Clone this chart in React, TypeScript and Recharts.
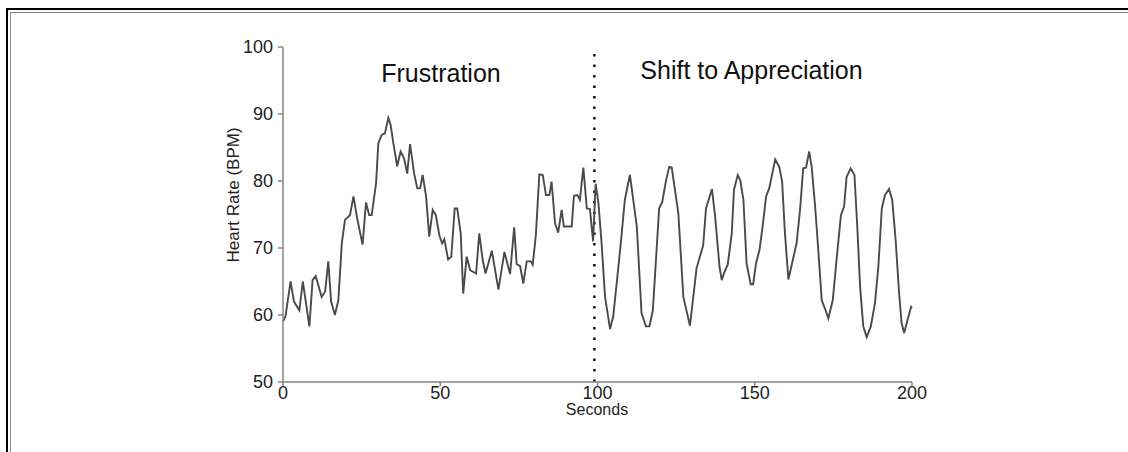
import React from 'react';
import { LineChart, Line, XAxis, YAxis, ReferenceLine } from 'recharts';

const SECONDS = [0, 0.8, 2.4, 3.5, 5.2, 6.3, 8.4, 9.4, 10.4, 12.3, 13.4, 14.4, 15.3, 16.5, 17.6, 18.7, 19.7, 21.3, 22.4, 23.6, 25.3, 26.4, 27.4, 28.2, 29.6, 30.3, 31.4, 32.4, 33.5, 34.2, 35.1, 36.3, 37.4, 38.5, 39.5, 40.4, 41.7, 42.7, 43.6, 44.4, 45.5, 46.5, 47.6, 48.6, 49.7, 50.6, 51.3, 52.5, 53.5, 54.6, 55.4, 56.5, 57.3, 58.4, 59.5, 61.4, 62.4, 63.5, 64.4, 66.4, 68.5, 70.4, 72.2, 73.5, 74.3, 75.4, 76.4, 77.5, 78.8, 79.4, 80.4, 81.5, 82.6, 83.6, 84.7, 85.4, 86.5, 87.5, 88.6, 89.3, 91.8, 92.5, 93.6, 94.4, 95.5, 96.6, 97.6, 98.6, 99.4, 100.3, 101.3, 102.4, 104.0, 105.0, 107.2, 108.7, 110.3, 112.5, 114.0, 115.4, 116.5, 117.6, 119.6, 120.6, 121.8, 122.8, 123.6, 125.7, 127.3, 129.4, 131.5, 133.6, 134.5, 136.4, 137.4, 138.8, 139.5, 140.2, 141.4, 142.7, 143.4, 144.6, 145.4, 146.4, 147.4, 148.7, 149.5, 150.4, 151.5, 152.5, 153.6, 154.6, 155.7, 156.5, 157.8, 158.7, 159.6, 160.7, 162.1, 163.3, 164.4, 165.4, 166.3, 167.3, 168.1, 169.2, 170.2, 171.3, 172.3, 173.4, 174.8, 176.0, 177.4, 178.4, 179.2, 180.5, 181.7, 182.6, 183.5, 184.5, 185.6, 186.9, 188.2, 189.3, 190.4, 191.4, 192.7, 193.7, 194.8, 195.9, 196.7, 197.5, 198.6, 199.7, 200];

const BPM = [59.0, 59.8, 65.0, 62.0, 60.7, 65.0, 58.3, 65.2, 65.8, 62.7, 63.5, 68.0, 62.0, 60.0, 62.2, 70.7, 74.2, 74.9, 77.7, 74.4, 70.5, 76.8, 74.9, 74.9, 79.7, 85.6, 86.9, 87.1, 89.4, 88.4, 85.6, 82.2, 84.4, 83.4, 81.1, 85.5, 81.1, 78.9, 78.9, 80.9, 77.7, 71.7, 75.7, 74.9, 71.9, 70.7, 71.3, 68.3, 68.7, 75.9, 75.9, 72.2, 63.2, 68.7, 66.7, 66.2, 72.2, 68.2, 66.2, 69.6, 63.8, 69.4, 66.1, 73.1, 67.6, 67.3, 64.7, 68.0, 68.0, 67.5, 71.9, 81.0, 80.9, 77.9, 77.9, 79.9, 73.7, 72.3, 75.7, 73.2, 73.2, 77.8, 77.9, 77.2, 82.0, 75.9, 75.8, 71.0, 79.6, 76.7, 70.7, 62.7, 57.9, 59.8, 69.7, 77.2, 80.9, 73.2, 60.3, 58.3, 58.3, 60.7, 75.9, 76.9, 80.1, 82.1, 82.0, 75.2, 62.7, 58.4, 67.0, 70.4, 75.9, 78.8, 74.7, 67.2, 65.2, 66.2, 67.5, 72.2, 78.7, 80.9, 80.1, 77.2, 67.7, 64.6, 64.6, 67.7, 69.7, 73.2, 77.7, 78.9, 81.4, 83.2, 82.1, 79.9, 72.2, 65.3, 68.2, 70.7, 75.7, 81.9, 82.0, 84.4, 82.1, 76.2, 69.7, 62.2, 61.0, 59.5, 62.2, 68.2, 74.9, 76.2, 80.6, 81.9, 80.9, 73.2, 64.2, 58.3, 56.7, 58.3, 61.7, 67.2, 75.9, 77.9, 78.8, 77.2, 71.2, 63.2, 58.8, 57.3, 59.3, 61.2, 61.0];

const X_TICKS = [0, 50, 100, 150, 200];
const Y_TICKS = [50, 60, 70, 80, 90, 100];
const DIVIDER_SECOND = 99;
const PHASE_LABELS = ['Frustration', 'Shift to Appreciation'];
const X_LABEL = 'Seconds';
const Y_LABEL = 'Heart Rate (BPM)';

const data = SECONDS.map((s, i) => ({ s, bpm: BPM[i] }));

const FONT = '"Liberation Sans", Arial, Helvetica, sans-serif';

export default function App() {
  return (
    <div style={{ position: 'absolute', left: 0, top: 0, width: 1128, height: 452, background: '#fff', fontFamily: FONT }}>
      <LineChart
        width={1128}
        height={452}
        data={data}
        margin={{ top: 47, right: 216, bottom: 40, left: 223 }}
        style={{ fontFamily: FONT }}
      >
        <XAxis
          dataKey="s"
          type="number"
          domain={[0, 200]}
          ticks={X_TICKS}
          height={30}
          tickSize={4}
          tickMargin={0}
          stroke="#858585"
          strokeWidth={1.5}
          tick={{ fill: '#222', fontSize: 18 }}
        />
        <YAxis
          type="number"
          domain={[50, 100]}
          ticks={Y_TICKS}
          width={60}
          tickSize={5}
          tickMargin={5}
          stroke="#858585"
          strokeWidth={1.5}
          tick={{ fill: '#222', fontSize: 18 }}
        />
        <ReferenceLine
          x={DIVIDER_SECOND}
          stroke="#111"
          strokeWidth={2.5}
          strokeDasharray="2.5 8"
        />
        <Line
          type="linear"
          dataKey="bpm"
          stroke="#4a4a4a"
          strokeWidth={1.9}
          dot={false}
          isAnimationActive={false}
        />
      </LineChart>
      <svg width={1128} height={452} style={{ position: 'absolute', left: 0, top: 0, pointerEvents: 'none' }}>
        <line x1={7} y1={9} x2={7} y2={452} stroke="#000" strokeWidth={2} />
        <line x1={6} y1={9} x2={1128} y2={9} stroke="#000" strokeWidth={2} />
        <line x1={10.5} y1={12.5} x2={10.5} y2={452} stroke="#888" strokeWidth={1} />
        <line x1={10} y1={12.5} x2={1128} y2={12.5} stroke="#888" strokeWidth={1} />
        <text x={441} y={81.5} textAnchor="middle" fontSize={25} fill="#111" fontFamily={FONT}>{PHASE_LABELS[0]}</text>
        <text x={751.5} y={78.5} textAnchor="middle" fontSize={25} fill="#111" fontFamily={FONT}>{PHASE_LABELS[1]}</text>
        <text x={597} y={415} textAnchor="middle" fontSize={16} fill="#222" fontFamily={FONT}>{X_LABEL}</text>
        <text x={239} y={195} textAnchor="middle" fontSize={17} fill="#222" fontFamily={FONT} transform="rotate(-90 239 195)">{Y_LABEL}</text>
      </svg>
    </div>
  );
}
